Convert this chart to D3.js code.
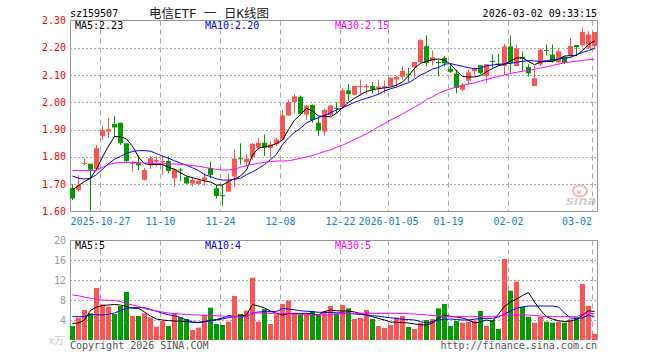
<!DOCTYPE html>
<html><head><meta charset="utf-8">
<script src="https://cdn.jsdelivr.net/npm/d3@7"></script>
<style>body{margin:0;background:#fff}svg{display:block}</style>
</head><body><svg id="c" width="660" height="360"></svg>
<script>
const dates = ["2025-10-20","2025-10-21","2025-10-22","2025-10-23","2025-10-24","2025-10-27","2025-10-28","2025-10-29","2025-10-30","2025-10-31",
"2025-11-03","2025-11-04","2025-11-05","2025-11-06","2025-11-07","2025-11-10","2025-11-11","2025-11-12","2025-11-13","2025-11-14",
"2025-11-17","2025-11-18","2025-11-19","2025-11-20","2025-11-21","2025-11-24","2025-11-25","2025-11-26","2025-11-27","2025-11-28",
"2025-12-01","2025-12-02","2025-12-03","2025-12-04","2025-12-05","2025-12-08","2025-12-09","2025-12-10","2025-12-11","2025-12-12",
"2025-12-15","2025-12-16","2025-12-17","2025-12-18","2025-12-19","2025-12-22","2025-12-23","2025-12-24","2025-12-25","2025-12-26",
"2025-12-29","2025-12-30","2025-12-31","2026-01-05","2026-01-06","2026-01-07","2026-01-08","2026-01-09","2026-01-12","2026-01-13",
"2026-01-14","2026-01-15","2026-01-16","2026-01-19","2026-01-20","2026-01-21","2026-01-22","2026-01-23","2026-01-26","2026-01-27",
"2026-01-28","2026-01-29","2026-01-30","2026-02-02","2026-02-03","2026-02-04","2026-02-05","2026-02-06","2026-02-09","2026-02-10",
"2026-02-11","2026-02-12","2026-02-13","2026-02-24","2026-02-25","2026-02-26","2026-02-27","2026-03-02"];

const open  = [1.686,1.679,1.776,1.775,1.756,1.876,1.893,1.921,1.925,1.850,1.776,1.777,1.716,1.769,1.783,1.780,1.785,1.722,1.754,1.726,1.703,1.701,1.714,1.759,1.685,1.660,1.673,1.728,1.795,1.781,1.800,1.833,1.852,1.833,1.846,1.864,1.952,2.001,2.020,1.955,1.990,1.925,1.893,1.954,1.980,1.983,2.044,2.028,2.057,2.055,2.060,2.052,2.054,2.060,2.084,2.094,2.105,2.128,2.147,2.206,2.151,2.148,2.163,2.123,2.106,2.046,2.079,2.114,2.136,2.096,2.152,2.142,2.133,2.205,2.133,2.167,2.130,2.060,2.139,2.192,2.175,2.147,2.167,2.172,2.210,2.209,2.200,2.206];
const close = [1.648,1.697,1.778,1.753,1.832,1.899,1.902,1.908,1.850,1.785,1.779,1.769,1.752,1.795,1.789,1.785,1.748,1.755,1.752,1.703,1.716,1.713,1.725,1.734,1.657,1.657,1.710,1.794,1.793,1.794,1.848,1.852,1.833,1.846,1.864,1.952,2.001,2.022,1.957,1.988,1.935,1.897,1.972,1.988,1.978,2.044,2.030,2.060,2.060,2.060,2.048,2.058,2.060,2.090,2.093,2.115,2.103,2.148,2.228,2.144,2.165,2.146,2.144,2.112,2.053,2.065,2.110,2.126,2.108,2.140,2.149,2.140,2.205,2.144,2.198,2.159,2.106,2.088,2.193,2.189,2.151,2.187,2.145,2.206,2.202,2.258,2.249,2.258];
const high  = [1.700,1.733,1.795,1.775,1.844,1.914,1.943,1.950,1.926,1.852,1.785,1.805,1.760,1.803,1.803,1.803,1.803,1.757,1.759,1.728,1.725,1.718,1.740,1.783,1.697,1.697,1.740,1.827,1.850,1.810,1.852,1.870,1.882,1.858,1.870,1.974,2.010,2.030,2.025,1.990,1.992,1.947,1.977,1.990,2.000,2.050,2.067,2.060,2.083,2.068,2.075,2.083,2.080,2.093,2.098,2.132,2.127,2.148,2.232,2.246,2.190,2.157,2.170,2.140,2.120,2.071,2.120,2.126,2.136,2.140,2.175,2.177,2.215,2.245,2.212,2.187,2.140,2.132,2.197,2.212,2.212,2.200,2.170,2.236,2.210,2.273,2.261,2.258];
const low   = [1.642,1.673,1.769,1.602,1.752,1.862,1.870,1.875,1.844,1.777,1.748,1.752,1.713,1.756,1.765,1.735,1.740,1.690,1.712,1.700,1.690,1.695,1.695,1.722,1.648,1.620,1.672,1.690,1.772,1.765,1.790,1.827,1.803,1.797,1.840,1.862,1.950,1.960,1.952,1.935,1.925,1.876,1.878,1.950,1.961,1.980,2.006,2.025,2.025,2.030,2.033,2.030,2.032,2.057,2.055,2.083,2.075,2.090,2.145,2.132,2.135,2.096,2.132,2.108,2.033,2.040,2.066,2.102,2.102,2.071,2.126,2.133,2.100,2.108,2.133,2.114,2.094,2.058,2.133,2.172,2.145,2.145,2.141,2.163,2.169,2.204,2.194,2.194];
const volume = [2.8,4.47,6.0,5.33,10.4,7.13,6.67,5.2,6.8,9.6,4.8,4.8,5.33,4.53,2.67,3.8,2.8,5.33,4.53,4.2,2.0,2.47,5.0,6.47,3.2,3.0,3.67,8.8,5.2,5.87,12.47,3.67,6.2,3.2,5.13,7.2,7.87,5.33,5.13,5.0,5.8,5.0,5.8,6.8,5.33,7.0,6.33,4.2,4.47,6.0,4.2,2.8,2.4,3.0,4.47,4.8,2.6,2.2,3.47,4.0,4.2,6.33,7.2,2.8,3.8,3.47,3.67,3.87,5.8,2.8,4.0,2.2,16.2,9.87,11.67,6.67,4.67,3.47,4.67,3.67,3.47,3.67,3.47,4.13,4.53,11.2,6.8,1.2];

const ma5  = [1.679,1.695,1.71,1.722,1.755,1.80,1.84,1.875,1.874,1.866,1.839,1.80,1.775,1.772,1.772,1.772,1.762,1.755,1.742,1.73,1.724,1.718,1.712,1.708,1.697,1.697,1.71,1.72,1.73,1.752,1.807,1.832,1.838,1.840,1.849,1.862,1.90,1.935,1.955,1.978,1.968,1.95,1.948,1.947,1.96,1.98,2.0,2.015,2.028,2.04,2.046,2.05,2.053,2.056,2.063,2.075,2.097,2.125,2.143,2.15,2.157,2.159,2.155,2.14,2.115,2.095,2.093,2.093,2.098,2.112,2.124,2.134,2.14,2.152,2.163,2.163,2.150,2.138,2.148,2.150,2.150,2.158,2.170,2.171,2.172,2.19,2.212,2.225];
const ma10 = [1.73,1.722,1.719,1.722,1.735,1.755,1.775,1.792,1.802,1.813,1.82,1.823,1.823,1.821,1.812,1.803,1.795,1.786,1.777,1.77,1.76,1.75,1.735,1.728,1.72,1.715,1.715,1.718,1.722,1.735,1.745,1.758,1.772,1.79,1.81,1.845,1.87,1.89,1.905,1.925,1.935,1.944,1.952,1.962,1.972,1.98,1.99,2.0,2.008,2.015,2.022,2.03,2.042,2.05,2.056,2.065,2.072,2.085,2.10,2.11,2.122,2.128,2.14,2.142,2.137,2.132,2.127,2.123,2.125,2.134,2.137,2.139,2.141,2.143,2.147,2.15,2.153,2.152,2.15,2.153,2.156,2.159,2.162,2.164,2.175,2.183,2.19,2.198];
const ma30 = [1.75,1.75,1.75,1.75,1.751,1.762,1.772,1.777,1.78,1.78,1.78,1.779,1.778,1.777,1.776,1.775,1.774,1.774,1.773,1.771,1.768,1.766,1.762,1.758,1.754,1.752,1.752,1.755,1.762,1.768,1.773,1.777,1.78,1.783,1.785,1.785,1.786,1.79,1.795,1.80,1.805,1.812,1.82,1.826,1.835,1.843,1.853,1.864,1.874,1.885,1.897,1.91,1.922,1.935,1.946,1.958,1.97,1.982,1.995,2.01,2.02,2.033,2.042,2.05,2.056,2.062,2.067,2.071,2.078,2.084,2.09,2.095,2.10,2.106,2.11,2.114,2.117,2.121,2.126,2.13,2.135,2.14,2.145,2.148,2.151,2.154,2.156,2.158];

const vma5  = [3.33,3.4,4.0,5.9,6.6,6.9,7.0,7.1,7.0,6.7,6.35,6.33,5.6,4.8,4.2,4.0,3.87,3.8,3.75,3.67,3.55,3.47,3.7,3.95,4.1,4.4,4.9,4.7,4.8,5.0,7.1,6.8,6.4,5.8,5.3,5.0,5.3,5.33,5.33,5.33,5.2,5.0,5.7,6.0,5.85,5.8,5.8,5.6,5.3,5.0,4.67,4.3,4.0,3.6,3.55,3.5,3.4,3.2,3.05,3.0,3.4,4.4,4.93,4.75,4.6,4.4,4.0,3.4,3.6,4.0,3.7,5.2,6.7,7.6,8.2,8.9,9.5,7.6,6.0,4.67,4.2,3.85,3.7,3.8,4.1,5.0,5.85,5.7];
const vma10 = [4.67,4.67,4.67,5.1,5.05,5.0,5.15,5.4,5.9,6.35,6.47,6.47,6.47,6.1,5.75,5.35,5.05,4.85,4.5,4.0,3.6,3.53,3.65,3.85,4.0,4.2,4.5,4.67,4.67,4.67,5.4,5.6,5.67,5.67,5.67,6.3,6.2,6.05,5.85,5.75,5.65,5.55,5.53,5.5,5.45,5.4,5.33,5.2,5.1,5.0,4.85,4.75,4.6,4.45,4.3,4.15,4.1,4.0,3.7,3.4,3.7,4.0,4.1,4.2,4.1,4.0,4.0,4.15,4.3,4.33,4.33,4.6,5.2,5.8,6.33,6.6,6.8,6.8,6.8,6.8,6.8,6.6,5.4,4.4,4.33,4.4,5.0,4.6];
const vma30 = [9.0,8.85,8.6,8.35,8.1,8.0,7.95,7.9,7.7,7.3,7.0,6.75,6.3,6.0,5.8,5.6,5.4,5.3,5.2,5.1,5.05,5.0,4.95,4.9,4.85,4.8,4.7,4.67,4.67,4.67,5.45,5.4,5.35,5.33,5.33,5.3,5.25,5.2,5.15,5.1,5.05,5.0,5.0,5.0,5.2,5.25,5.3,5.33,5.33,5.33,5.33,5.33,5.33,5.33,5.33,5.3,5.25,5.2,5.1,5.0,4.9,4.8,4.75,4.7,4.67,4.67,4.67,4.67,4.67,4.67,4.67,4.8,5.0,5.0,5.0,5.0,5.0,4.9,4.8,4.7,4.67,4.67,4.67,4.67,4.67,5.2,5.3,5.25];

const priceTicks = [1.6,1.7,1.8,1.9,2.0,2.1,2.2,2.3];
const volTicks = [4,8,12,16,20];
const xTickDates  = ["2025-10-27","2025-11-10","2025-11-24","2025-12-08","2025-12-22","2026-01-05","2026-01-19","2026-02-02","2026-03-02"];
const xTickLabels = ["2025-10-27","11-10","11-24","12-08","12-22","2026-01-05","01-19","02-02","03-02"];
const priceLegend = ["MA5:2.23","MA10:2.20","MA30:2.15"];
const volLegend = ["MA5:5","MA10:4","MA30:5"];
const code = "sz159507";
const title = "电信ETF 一 日K线图";
const stamp = "2026-03-02 09:33:15";

const RED = "#ff5454", GREEN = "#009c00";
const lineColors = ["#000000", "#0000ff", "#ff00ff"];
const mono = "'DejaVu Sans Mono', 'Liberation Mono', monospace";

const svg = d3.select("#c");
const L = 70, R = 598;
const x = d3.scaleBand().domain(dates).range([L - 0.5, R - 0.5]).paddingInner(1/6).paddingOuter(1/12);
const cx = d => x(d) + x.bandwidth() / 2;
const yP = d3.scaleLinear().domain([1.6, 2.3]).range([211.5, 20.5]);
const yV = d3.scaleLinear().domain([0, 20]).range([340, 240]);

// header
svg.append("text").attr("x", 70).attr("y", 17).attr("font-family", mono).attr("font-size", 10).attr("fill", "#000").text(code);
svg.append("text").attr("x", 209).attr("y", 17.5).attr("text-anchor", "middle").attr("xml:space", "preserve").style("white-space", "pre")
  .attr("font-family", "'DejaVu Sans Mono', 'Noto Sans CJK SC', sans-serif").attr("font-size", 12.5).attr("fill", "#222").text(title);
svg.append("text").attr("x", 597).attr("y", 16.5).attr("text-anchor", "end").attr("font-family", mono).attr("font-size", 10).attr("fill", "#000").text(stamp);

function panel(y0, y1, yScale, ticks, gridTicks, tickColor, fmt) {
  const g = svg.append("g");
  g.selectAll("line.h").data(gridTicks).join("line")
    .attr("x1", L).attr("x2", R).attr("y1", d => Math.round(yScale(d)) + 0.5).attr("y2", d => Math.round(yScale(d)) + 0.5)
    .attr("stroke", "#aaa").attr("stroke-dasharray", "2,2");
  g.selectAll("line.v").data(xTickDates).join("line")
    .attr("x1", d => x(d) + 0.5).attr("x2", d => x(d) + 0.5).attr("y1", y0).attr("y2", y1)
    .attr("stroke", "#aaa").attr("stroke-dasharray", "5,4");
  g.selectAll("text").data(ticks).join("text")
    .attr("x", 66).attr("y", d => yScale(d) + 3.5).attr("text-anchor", "end")
    .attr("font-family", mono).attr("font-size", 10).attr("fill", tickColor).text(fmt);
  return g;
}

const pg = panel(20.5, 211.5, yP, priceTicks, priceTicks.slice(1, -1), "#ff0000", d => d.toFixed(2));
pg.append("path").attr("d", `M${L+0.5},${211.5}V20.5H${R-0.5}V211.5H${L+0.5}`).attr("fill", "none").attr("stroke", "#999");

const vg = panel(240.5, 340, yV, volTicks, volTicks.slice(0, -1), "#999", d => String(d));
vg.append("path").attr("d", `M${L+0.5},340V240.5H${R-0.5}V340`).attr("fill", "none").attr("stroke", "#999");
svg.append("text").attr("x", 64).attr("y", 344).attr("text-anchor", "end").attr("font-family", "'Noto Sans CJK SC', sans-serif").attr("font-size", 10).attr("fill", "#c8c8c8").text("x万");

const wm = svg.append("g").attr("opacity", 0.55);
wm.append("ellipse").attr("cx", 580).attr("cy", 191).attr("rx", 7).attr("ry", 5.5).attr("fill", "none").attr("stroke", "#f08080").attr("stroke-width", 2);
wm.append("circle").attr("cx", 579).attr("cy", 192).attr("r", 2).attr("fill", "#f08080");
wm.append("text").attr("x", 566).attr("y", 205).attr("font-family", "'DejaVu Sans', sans-serif").attr("font-style", "italic").attr("font-weight", "bold").attr("font-size", 13).attr("fill", "#aaa").text("sina");

svg.selectAll("text.xl").data(xTickDates).join("text").attr("class", "xl")
  .attr("x", (d, i) => i === xTickDates.length - 1 ? x(d) : x(d) + 0.5)
  .attr("y", 225).attr("text-anchor", (d, i) => i === xTickDates.length - 1 ? "end" : "middle")
  .attr("font-family", mono).attr("font-size", 10).attr("fill", "#1a80d0")
  .text((d, i) => xTickLabels[i]);

const idx = d3.range(dates.length);
const col = i => close[i] >= open[i] ? RED : GREEN;
const cg = svg.append("g");
cg.selectAll("line").data(idx).join("line")
  .attr("x1", i => cx(dates[i])).attr("x2", i => cx(dates[i]))
  .attr("y1", i => yP(high[i])).attr("y2", i => yP(low[i]))
  .attr("stroke", col).attr("stroke-width", 1);
cg.selectAll("rect").data(idx).join("rect")
  .attr("x", i => x(dates[i])).attr("width", x.bandwidth())
  .attr("y", i => yP(Math.max(open[i], close[i])))
  .attr("height", i => Math.max(1, Math.abs(yP(open[i]) - yP(close[i]))))
  .attr("fill", col);

[ma5, ma10, ma30].forEach((arr, k) => {
  const line = d3.line().x((v, i) => cx(dates[i])).y(v => yP(v));
  svg.append("path").attr("d", line(arr)).attr("fill", "none").attr("stroke", lineColors[k]).attr("stroke-width", 1);
});

svg.append("g").selectAll("rect").data(idx).join("rect")
  .attr("x", i => x(dates[i])).attr("width", x.bandwidth())
  .attr("y", i => yV(volume[i])).attr("height", i => yV(0) - yV(volume[i]))
  .attr("fill", col);
[vma5, vma10, vma30].forEach((arr, k) => {
  const line = d3.line().x((v, i) => cx(dates[i])).y(v => yV(v));
  svg.append("path").attr("d", line(arr)).attr("fill", "none").attr("stroke", lineColors[k]).attr("stroke-width", 1);
});

const legX = [75, 205, 335];
priceLegend.forEach((t, k) => svg.append("text").attr("x", legX[k]).attr("y", 29).attr("font-family", mono).attr("font-size", 10).attr("fill", lineColors[k]).text(t));
volLegend.forEach((t, k) => svg.append("text").attr("x", legX[k]).attr("y", 249).attr("font-family", mono).attr("font-size", 10).attr("fill", lineColors[k]).text(t));

svg.append("text").attr("x", 70).attr("y", 349).attr("font-family", mono).attr("font-size", 10).attr("fill", "#555").text("Copyright 2026 SINA.COM");
svg.append("text").attr("x", 597).attr("y", 349).attr("text-anchor", "end").attr("font-family", mono).attr("font-size", 10).attr("fill", "#555").text("http://finance.sina.com.cn");
</script></body></html>
